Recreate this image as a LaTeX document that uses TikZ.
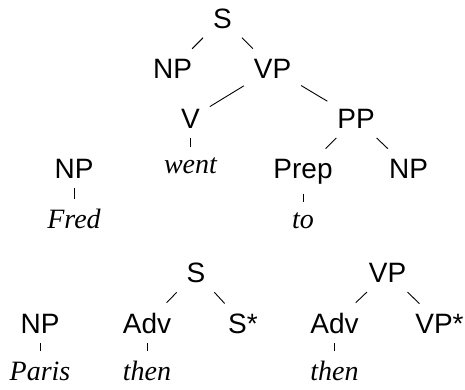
\documentclass[tikz,border=0pt]{standalone}
\usepackage{fontspec}
\setmainfont{Liberation Sans}
\newfontfamily\tms{Liberation Serif}
\begin{document}
\begin{tikzpicture}[x=1pt,y=-1pt,
  lab/.style={anchor=base,inner sep=10pt,outer sep=0pt,font=\fontsize{28}{34}\selectfont},
  wrd/.style={lab,font=\fontsize{28}{34}\selectfont\tms\itshape},
  br/.style={line width=0.9pt}]
\useasboundingbox (0,0) rectangle (465,389);
% main tree
\node[lab] (s) at (222.5,28) {S};
\node[lab] (np) at (172.5,78) {NP};
\node[lab] (vp) at (272.5,78) {VP};
\node[lab] (v) at (190.5,128) {V};
\node[lab] (pp) at (356,128) {PP};
\node[wrd] (went) at (190.5,173) {went};
\node[lab] (prep) at (303,178) {Prep};
\node[lab] (np2) at (408.5,178) {NP};
\node[wrd] (to) at (303,228) {to};
% Fred
\node[lab] (np3) at (74,178) {NP};
\node[wrd] (fred) at (74,228) {Fred};
% Paris
\node[lab] (np4) at (40,333) {NP};
\node[wrd] (paris) at (40,380) {Paris};
% S adjunction
\node[lab] (s2) at (196,282) {S};
\node[lab] (adv) at (147,333) {Adv};
\node[lab] (sst) at (243,333) {S*};
\node[wrd] (then) at (147,380) {then};
% VP adjunction
\node[lab] (vp2) at (387.5,282) {VP};
\node[lab] (adv2) at (334.5,333) {Adv};
\node[lab] (vpst) at (439.5,333) {VP*};
\node[wrd] (then2) at (334.5,380) {then};
% branches
\draw[br] (s) -- (np);
\draw[br] (s) -- (vp);
\draw[br] (vp) -- (v);
\draw[br] (vp) -- (pp);
\draw[br] (v) -- (went);
\draw[br] (pp) -- (prep);
\draw[br] (pp) -- (np2);
\draw[br] (prep) -- (to);
\draw[br] (np3) -- (fred);
\draw[br] (np4) -- (paris);
\draw[br] (s2) -- (adv);
\draw[br] (s2) -- (sst);
\draw[br] (adv) -- (then);
\draw[br] (vp2) -- (adv2);
\draw[br] (vp2) -- (vpst);
\draw[br] (adv2) -- (then2);
\end{tikzpicture}
\end{document}
